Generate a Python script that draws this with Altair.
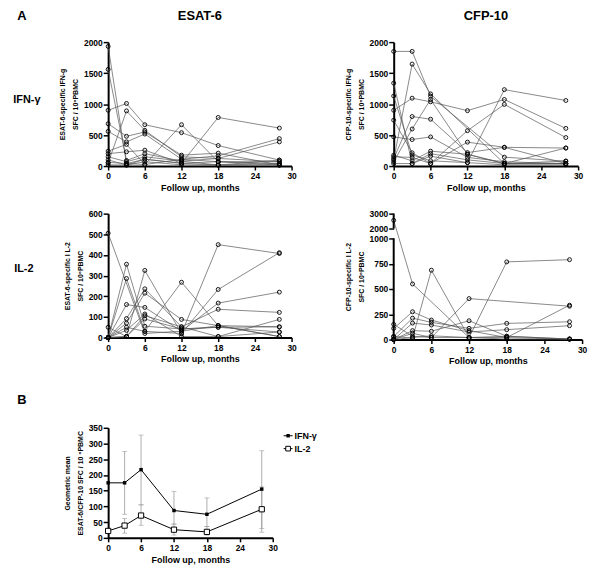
import altair as alt
import pandas as pd

FONT = "Liberation Sans"

months = [0, 3, 6, 12, 18, 28]
x_ticks = [0, 6, 12, 18, 24, 30]

# Panel A: individual subjects, values at months 0, 3, 6, 12, 18, 28 (None = not measured)
esat_ifn = [
    [1930, 40, 110, 45, 70, 16],
    [1560, 90, 200, 80, 16, 40],
    [900, 1010, 667, 539, 331, 96],
    [50, 890, 576, 150, 123, 70],
    [683, 480, 550, 176, 208, 16],
    [560, 390, 517, 110, 165, 443],
    [240, 350, 25, 667, 70, 40],
    [200, 230, 256, 45, 784, 613],
    [150, 70, 150, 80, 123, 390],
    [100, 16, 70, 20, 16, 16],
    [60, 40, 25, 110, 70, 70],
    [20, 16, 110, 45, 16, 96],
]
cfp_ifn = [
    [1850, 1850, 1127, None, 143, 80],
    [100, 1645, 1164, None, 40, 40],
    [900, 1095, 1037, 894, 1074, 608],
    [1338, 40, 200, 100, 40, 40],
    [1130, 180, 85, 55, 1233, 1058],
    [740, 214, 40, 571, 995, 460],
    [470, 428, 470, 140, 69, 40],
    [120, 799, 756, 217, 302, 291],
    [70, 598, 1074, 190, 40, 80],
    [150, 140, 40, 386, 302, 40],
    [175, 85, 240, 190, 40, 291],
    [40, 40, 160, 55, 20, 20],
]
esat_il2 = [
    [505, None, 20, 31, 58, 5],
    [50, 5, 106, 52, 137, 122],
    [0, 355, 55, 42, 50, 52],
    [0, 286, 30, 20, 450, 407],
    [0, 160, 146, 31, 167, 220],
    [0, 5, 325, 20, 233, 411],
    [0, 92, 236, 52, 5, 27],
    [0, 70, 215, 88, 58, 5],
    [0, 50, 30, 268, 58, 52],
    [0, 35, 114, 5, 5, 88],
    [0, 5, 90, 42, 50, 27],
]
cfp_il2 = [
    [2550, 550, None, 20, 20, 5],
    [30, 15, 686, 20, 33, 5],
    [150, 33, 20, 405, None, 330],
    [0, 20, 37, 20, 768, 790],
    [110, 275, 193, 88, 20, 340],
    [30, 212, 170, 111, 160, 176],
    [0, 163, 144, 75, 98, 137],
    [0, 88, 82, 186, 33, 5],
    [0, 62, 20, 20, 5, 5],
]

# Panel B: geometric means and error bars
gm_ifn = [175, 175, 217, 87, 75, 155]
gm_il2 = [22, 39, 71, 26, 19, 91]
ifn_lo = [None, 75, 105, 44, 36, 30]
ifn_hi = [None, 275, 327, 148, 127, 277]
il2_lo = [None, 15, 40, 9, 9, 18]
il2_hi = [None, 62, 105, 44, 36, 162]

XT = "Follow up, months"


def xenc():
    return alt.X("month:Q", scale=alt.Scale(domain=[0, 30], nice=False),
                 axis=alt.Axis(values=x_ticks, title=XT, format="d"))


def long_df(data):
    rows = []
    for i, vals in enumerate(data):
        for m, v in zip(months, vals):
            if v is not None:
                rows.append({"subject": i, "month": m, "value": v})
    return pd.DataFrame(rows)


def label(text, dx, dy, size=13, align="center"):
    return alt.Chart(pd.DataFrame({"t": [text]})).mark_text(
        font=FONT, fontSize=size, fontWeight="bold", align=align,
        baseline="middle", color="black"
    ).encode(text="t:N", x=alt.value(dx), y=alt.value(dy))


def spaghetti(data, yenc):
    base = alt.Chart(long_df(data))
    lines = base.mark_line(color="#555", strokeWidth=0.7).encode(
        x=xenc(), y=yenc, detail="subject:N")
    pts = base.mark_point(shape="circle", filled=False, color="black",
                          size=16, strokeWidth=0.9, opacity=1).encode(x=xenc(), y=yenc)
    return [lines, pts]


def yq(domain, values, title, **kw):
    extra = {"domain": False} if "range" in kw else {}
    return alt.Y("value:Q", scale=alt.Scale(domain=domain, nice=False, zero=False, **kw),
                 axis=alt.Axis(values=values, title=title, format="d", **extra))


W1, H1 = 185, 125

# p1
y1 = yq([0, 2000], [0, 500, 1000, 1500, 2000], ["ESAT-6-specific IFN-g", "SFC / 10⁶PBMC"])
p1 = alt.layer(*spaghetti(esat_ifn, y1),
               label("A", -87, -26), label("ESAT-6", W1 / 2, -26),
               label("IFN-γ", -82, 58, size=11)).properties(width=W1, height=H1)

# p2
y2 = yq([0, 2000], [0, 500, 1000, 1500, 2000], ["CFP-10-specific IFN-g", "SFC / 10⁶PBMC"])
p2 = alt.layer(*spaghetti(cfp_ifn, y2),
               label("CFP-10", 186 / 2, -26)).properties(width=186, height=H1)

# p3
y3 = yq([0, 600], [0, 100, 200, 300, 400, 500, 600], ["ESAT-6-specific I L-2", "SFC / 10⁶PBMC"])
p3 = alt.layer(*spaghetti(esat_il2, y3),
               label("IL-2", -85, 56, size=11),
               label("B", -87, 188)).properties(width=W1, height=H1)

# p4 with broken axis
H4 = 127
y4 = yq([0, 1000, 2000, 3000], [0, 250, 500, 750, 1000, 2000, 3000],
        ["CFP-10-specific I L-2", "SFC / 10⁶PBMC"], range=[H4, 25, 15, 0])
axis_segments = pd.DataFrame({"value": [0, 2000], "value2": [1000, 3000]})
seg = alt.Chart(axis_segments).mark_rule(color="black", strokeWidth=2).encode(
    x=alt.value(0), y=y4, y2="value2:Q")
p4 = alt.layer(*spaghetti(cfp_il2, y4), seg).properties(width=190, height=H4)

# pB
series_names = ["IFN-γ", "IL-2"]
gm_rows, err_rows, cap_rows = [], [], []
for name, gm, lo, hi in [(series_names[0], gm_ifn, ifn_lo, ifn_hi),
                         (series_names[1], gm_il2, il2_lo, il2_hi)]:
    for m, g, l, h in zip(months, gm, lo, hi):
        gm_rows.append({"series": name, "month": m, "value": g})
        if l is not None:
            err_rows.append({"series": name, "month": m, "value": l, "value2": h})
            cap_rows.append({"series": name, "month": m, "value": l})
            cap_rows.append({"series": name, "month": m, "value": h})
gm_df = pd.DataFrame(gm_rows)
err_df = pd.DataFrame(err_rows)
cap_df = pd.DataFrame(cap_rows)

yB = yq([0, 350], list(range(0, 351, 50)),
        ["Geometric mean", "ESAT-6/CFP-10 SFC / 10 ⁶PBMC"])
WB, HB = 166, 111
errs = alt.Chart(err_df).mark_rule(color="#999", strokeWidth=0.8).encode(
    x=xenc(), y=yB, y2="value2:Q")
caps = alt.Chart(cap_df).mark_tick(color="#999", orient="horizontal", size=5, thickness=0.8).encode(
    x=xenc(), y=yB)
lineB = alt.Chart(gm_df).mark_line(color="black", strokeWidth=1).encode(
    x=xenc(), y=yB, detail="series:N")
ptI = alt.Chart(gm_df[gm_df.series == series_names[0]]).mark_point(
    shape="square", filled=True, color="black", size=12, opacity=1).encode(x=xenc(), y=yB)
ptL = alt.Chart(gm_df[gm_df.series == series_names[1]]).mark_point(
    shape="square", filled=True, fill="white", stroke="black", strokeWidth=1, size=28, opacity=1).encode(x=xenc(), y=yB)


def leg_item(name, dy, filled):
    d = pd.DataFrame({"t": [name]})
    r = alt.Chart(d).mark_rule(color="black", strokeWidth=1).encode(
        x=alt.value(177), x2=alt.value(186), y=alt.value(dy))
    if filled:
        p = alt.Chart(d).mark_point(shape="square", filled=True, color="black", size=12, opacity=1).encode(
            x=alt.value(181.5), y=alt.value(dy))
    else:
        p = alt.Chart(d).mark_point(shape="square", filled=True, fill="white", stroke="black",
                                    strokeWidth=1, size=22, opacity=1).encode(
            x=alt.value(181.5), y=alt.value(dy))
    t = alt.Chart(d).mark_text(font=FONT, fontSize=9, fontWeight="bold", align="left",
                               baseline="middle", color="black").encode(
        text="t:N", x=alt.value(188), y=alt.value(dy))
    return [r, p, t]


pB = alt.layer(errs, caps, lineB, ptI, ptL,
               *leg_item(series_names[0], 8, True),
               *leg_item(series_names[1], 21, False)).properties(width=WB, height=HB)

chart = alt.concat(p1, p2, p3, p4, pB, columns=2, spacing={"row": 17, "column": 27},
                   align="each").properties(
    padding={"left": 5, "top": 0, "right": 5, "bottom": 3},
    background="white",
).configure_view(stroke=None).configure_axis(
    domainColor="black", domainWidth=2, tickColor="black", tickWidth=1.5, tickSize=5,
    labelFont=FONT, labelFontSize=8.5, labelFontWeight="bold", labelColor="black",
    titleFont=FONT, titleFontWeight="bold", titleColor="black", grid=False,
    labelPadding=1, labelFlush=False, labelOverlap=False,
).configure_axisX(
    titleFontSize=9, tickSize=4, labelPadding=2, titlePadding=3,
).configure_axisY(
    titleFontSize=7, titleLineHeight=13, titlePadding=5,
)

chart.save("out.html", embed_options={"renderer": "svg", "actions": False})
